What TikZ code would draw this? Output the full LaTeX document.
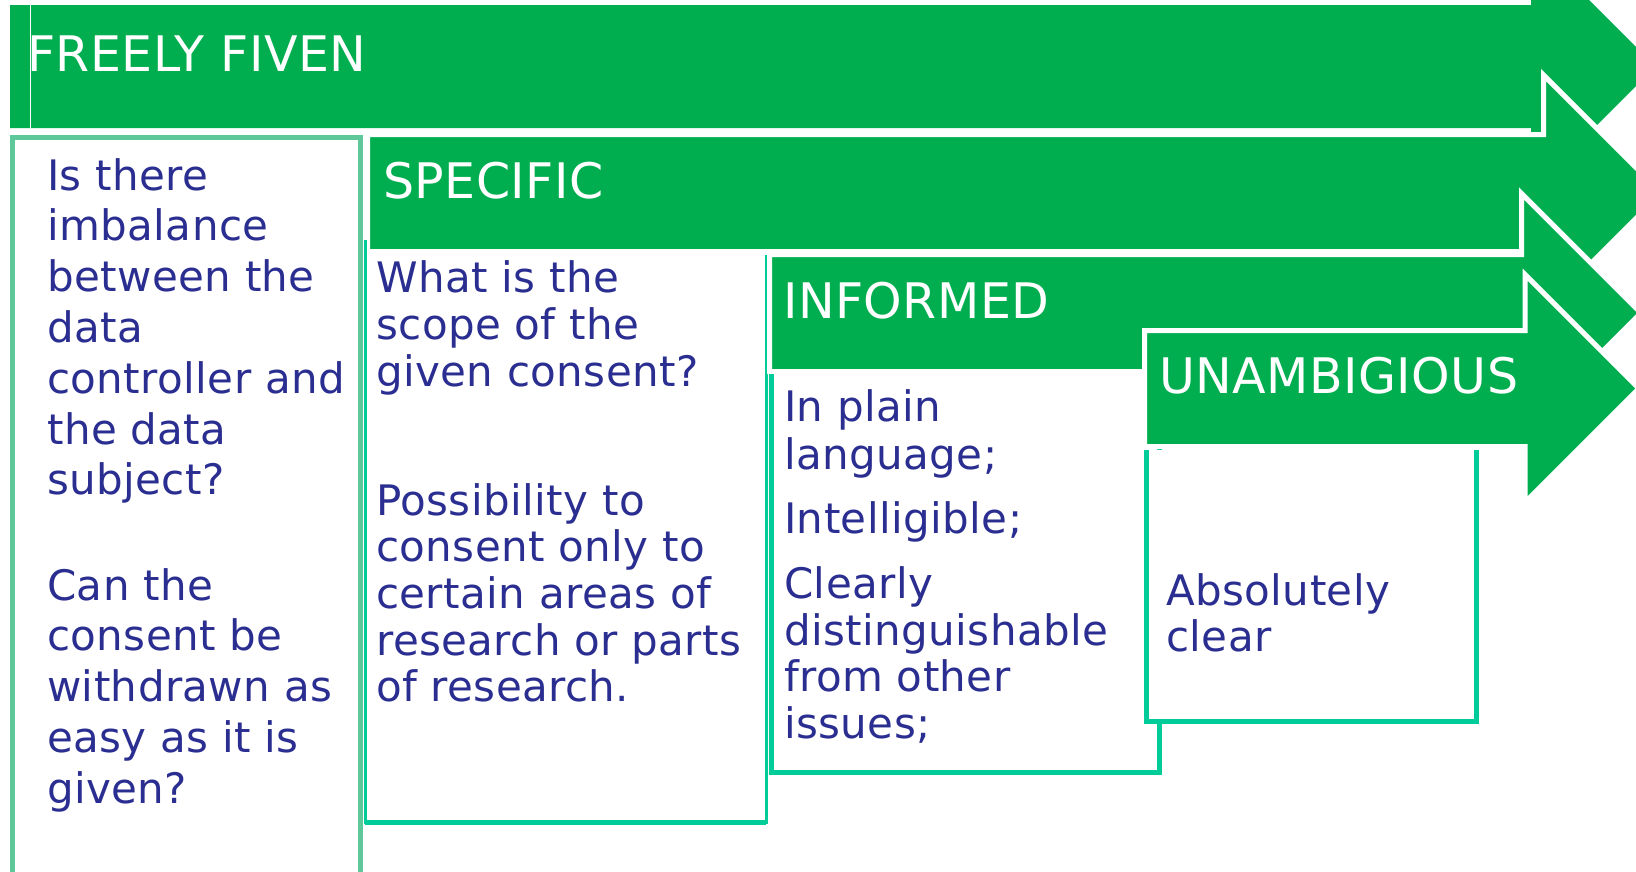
\documentclass[tikz,border=0pt]{standalone}
\usepackage{fontspec}
\setmainfont{DejaVu Sans}
\newfontfamily\bodyface[LetterSpace=1.0]{DejaVu Sans}
\newfontfamily\titleface[LetterSpace=1.0]{DejaVu Sans}

\definecolor{arrowgreen}{HTML}{00AE4F}
\definecolor{boxteal}{HTML}{00CC99}
\definecolor{boxmint}{HTML}{5FC89A}
\definecolor{textblue}{HTML}{2B2E91}

\tikzset{
  arrowbody/.style={fill=arrowgreen, draw=white, line width=5pt, line join=miter},
  titletext/.style={text=white, font=\titleface\fontsize{49}{58}\selectfont, anchor=base west, inner sep=0pt},
  bodytext/.style={text=textblue, font=\bodyface\fontsize{42}{50}\selectfont, anchor=base west, inner sep=0pt},
  mintbox/.style={draw=boxmint, line width=5pt, fill=white},
  tealbox/.style={draw=boxteal, line width=5pt, fill=white},
}

% Block arrow: [extra style] left, top, bottom, head back x, head half height
\newcommand\StepArrow[6][]{%
  \path[arrowbody,#1] (#2,#3) -- (#5,#3) -- (#5,{(#3+#4)/2-#6})
    -- ({#5+#6},{(#3+#4)/2}) -- (#5,{(#3+#4)/2+#6}) -- (#5,#4) -- (#2,#4) -- cycle;}

% Stack of text lines with a fixed baseline pitch; the baseline is the first line's
\newcommand\Lines[2]{\vtop{\baselineskip=#1pt\lineskiplimit=-1000pt\lineskip=0pt #2}}

\begin{document}
\begin{tikzpicture}[x=1pt, y=-1pt]
\useasboundingbox (0,0) rectangle (1636,871);
\clip (0,0) rectangle (1636,871);

% FREELY GIVEN
\StepArrow[draw=none]{10}{5}{128}{1531}{124.5}
\draw[white, line width=1pt] (30,5) -- (30,128);
\draw[mintbox] (12.5,900) -- (12.5,137.5) -- (360.8,137.5) -- (360.8,900);
\node[titletext] (freely) at (27,71.7) {FREELY FIVEN};
\node[bodytext] (freelyA) at (47,190) {\Lines{50.8}{\hbox{Is there}\hbox{imbalance}\hbox{between the}\hbox{data}\hbox{controller and}\hbox{the data}\hbox{subject?}}};
\node[bodytext] (freelyB) at (47,600) {\Lines{50.8}{\hbox{Can the}\hbox{consent be}\hbox{withdrawn as}\hbox{easy as it is}\hbox{given?}}};

% SPECIFIC
\StepArrow{367.5}{134.5}{251.5}{1543.5}{118}
\draw[draw=boxteal, line width=3pt] (365,240) -- (365,822) -- (766,822) -- (766,255);
\draw[draw=boxteal, line width=5pt] (365,822) -- (766,822);
\node[titletext] (specific) at (383,198.3) {SPECIFIC};
\node[bodytext] (specificA) at (376,292.7) {\Lines{46.7}{\hbox{What is the}\hbox{scope of the}\hbox{given consent?}}};
\node[bodytext] (specificB) at (376,515) {\Lines{46.7}{\hbox{Possibility to}\hbox{consent only to}\hbox{certain areas of}\hbox{research or parts}\hbox{of research.}}};

% INFORMED
\StepArrow{769.5}{254.5}{371.5}{1521.5}{119.5}
\draw[tealbox] (771,374) -- (771,772) -- (1159,772) -- (1159,374);
\node[titletext] (informed) at (783,318.3) {INFORMED};
\node[bodytext] (informedA) at (784,421.7) {\Lines{47.6}{\hbox{In plain}\hbox{language;}}};
\node[bodytext] (informedB) at (784,533.3) {Intelligible;};
\node[bodytext] (informedC) at (784,598.3) {\Lines{46.7}{\hbox{Clearly}\hbox{distinguishable}\hbox{from other}\hbox{issues;}}};

% UNAMBIGUOUS
\StepArrow{1144.5}{330.5}{446.5}{1525}{114}
\draw[tealbox] (1146,450) -- (1146,721) -- (1476,721) -- (1476,450);
\node[titletext] (unamb) at (1159,393.3) {UNAMBIGIOUS};
\node[bodytext] (unambA) at (1166,605) {\Lines{46.7}{\hbox{Absolutely}\hbox{clear}}};
\end{tikzpicture}
\end{document}
